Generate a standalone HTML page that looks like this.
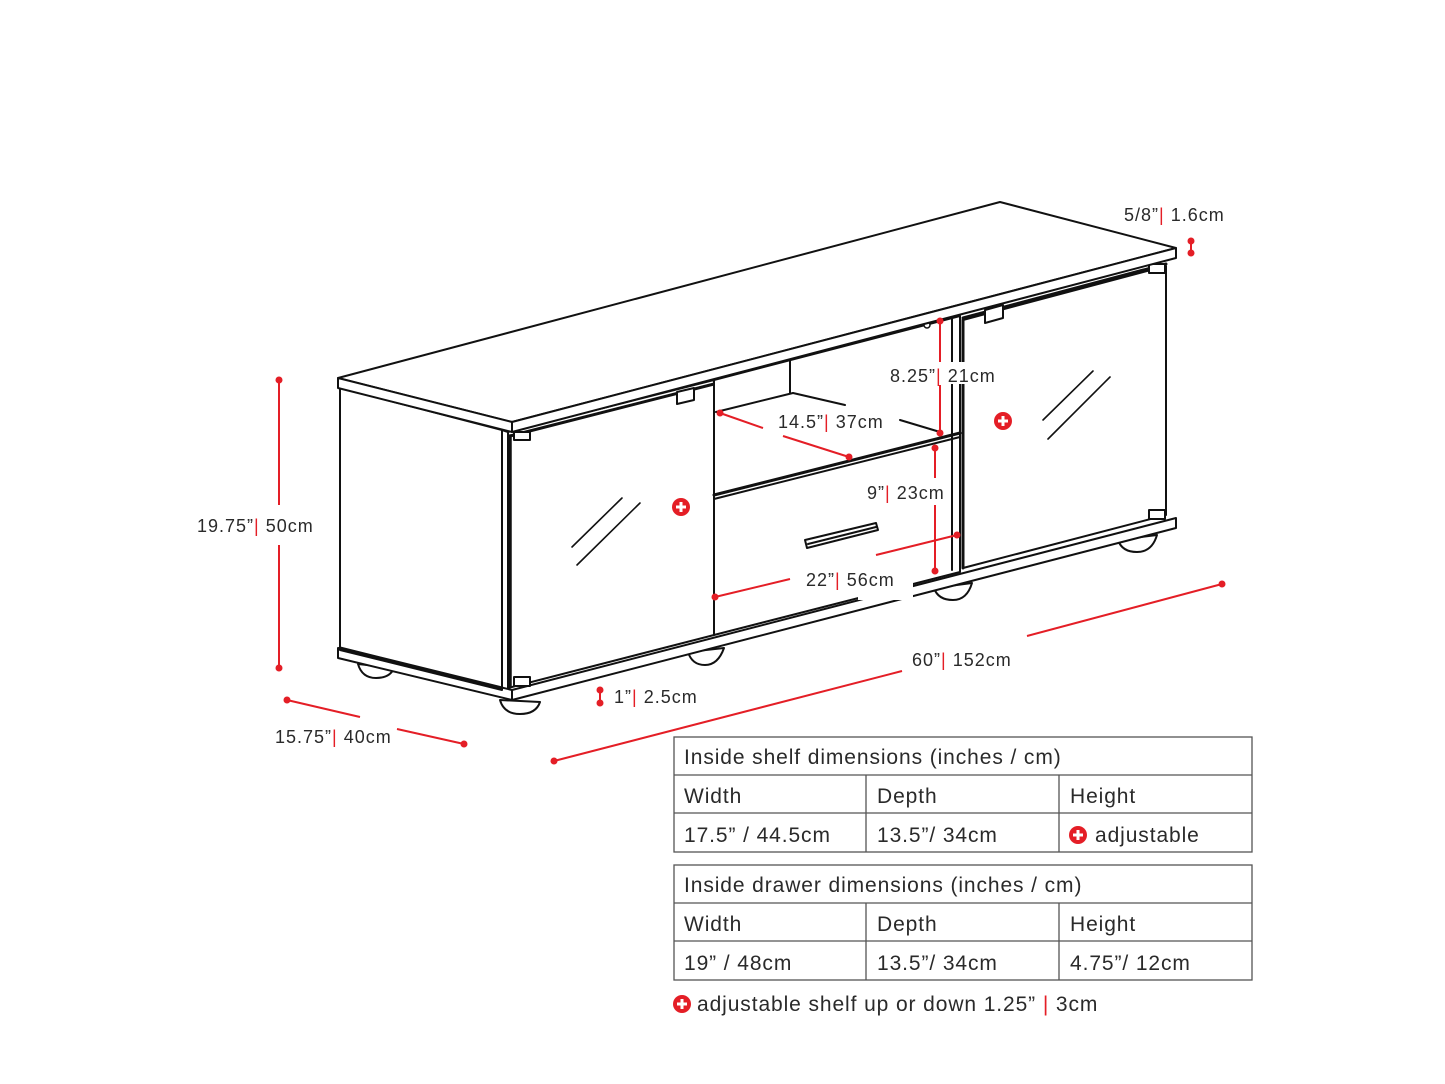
<!DOCTYPE html>
<html><head><meta charset="utf-8"><style>
html,body{margin:0;padding:0;background:#fff;}
svg{display:block;}
.k{fill:none;stroke:#111;stroke-width:2;stroke-linejoin:round;stroke-linecap:round;}
.kw{fill:#fff;stroke:#111;stroke-width:2;stroke-linejoin:round;}
.r{stroke:#e41e26;stroke-width:2;fill:none;}
.d{fill:#e41e26;}
text{font-family:"Liberation Sans",sans-serif;fill:#2a2a2a;}
.lb{font-size:18px;letter-spacing:1px;}
.tb{font-size:21px;letter-spacing:0.9px;}
.p{fill:#e41e26;}
</style></head><body>
<svg width="1445" height="1084" viewBox="0 0 1445 1084" xmlns="http://www.w3.org/2000/svg">
<!-- feet -->
<path class="kw" d="M358,664 Q362,678 376,678 Q390,678 394,668 Z"/>
<path class="kw" d="M500,700 Q504,714 520,714 Q536,714 540,702 Z"/>
<path class="kw" d="M688,652 Q692,665 705,665 Q718,665 724,648 Z"/>
<path class="kw" d="M934,588 Q938,600 953,600 Q967,600 972,583 Z"/>
<path class="kw" d="M1118,540 Q1122,552 1137,552 Q1152,552 1157,535 Z"/>
<!-- bottom plinth -->
<polygon class="kw" points="338,648 512,690 1176,518 1176,528 512,700 338,658"/>
<line class="k" x1="512" y1="690" x2="512" y2="700"/>
<!-- left side -->
<polygon class="kw" points="340,388 502,430 502,690 340,650"/>
<line class="k" x1="340" y1="648" x2="502" y2="688" style="stroke-width:3"/>
<!-- left door -->
<polygon class="kw" points="508,432 714,380 714,635 508,688"/>
<line class="k" x1="502" y1="430" x2="508" y2="432"/>
<line class="k" x1="510" y1="436" x2="510" y2="686" style="stroke-width:3.5"/>
<line class="k" x1="510" y1="436" x2="714" y2="384" style="stroke-width:3"/>
<rect class="kw" x="514" y="432" width="16" height="8"/>
<polygon class="kw" points="677,392 694,388 694,400 677,404"/>
<rect class="kw" x="514" y="677" width="16" height="9"/>
<line class="k" x1="572" y1="547" x2="622" y2="498" style="stroke-width:1.6"/>
<line class="k" x1="577" y1="565" x2="640" y2="503" style="stroke-width:1.6"/>
<!-- middle section -->
<polygon class="kw" points="714,380 960,316 960,572 714,635"/>
<line class="k" x1="790" y1="360" x2="790" y2="393"/>
<line class="k" x1="716" y1="412" x2="793" y2="393"/>
<line class="k" x1="793" y1="393" x2="845" y2="405"/>
<line class="k" x1="900" y1="420" x2="940" y2="432"/>
<circle cx="927" cy="325" r="3" class="kw" style="stroke-width:1.5"/>
<line class="k" x1="714" y1="495" x2="960" y2="433" style="stroke-width:3"/>
<line class="k" x1="714" y1="499" x2="960" y2="437"/>
<line class="k" x1="952" y1="318" x2="952" y2="570"/>
<polygon class="kw" points="805,540 876,523 878,530 807,548"/>
<line class="k" x1="808" y1="544" x2="876" y2="527"/>
<!-- right door -->
<polygon class="kw" points="963,320 1166,266 1166,515 963,568"/>
<line class="k" x1="963" y1="320" x2="963" y2="568" style="stroke-width:3"/>
<line class="k" x1="963" y1="318" x2="1166" y2="264" style="stroke-width:3"/>
<polygon class="kw" points="985,310 1003,305 1003,318 985,323"/>
<rect class="kw" x="1149" y="264" width="16" height="9"/>
<rect class="kw" x="1149" y="510" width="16" height="9"/>
<line class="k" x1="1043" y1="420" x2="1093" y2="371" style="stroke-width:1.6"/>
<line class="k" x1="1048" y1="439" x2="1110" y2="377" style="stroke-width:1.6"/>
<!-- top -->
<polygon class="kw" points="338,378 1000,202 1176,248 512,422"/>
<polygon class="kw" points="338,378 512,422 512,432 338,388"/>
<polygon class="kw" points="512,422 1176,248 1176,258 512,432"/>
<!-- white gaps behind labels -->
<rect x="858" y="555" width="55" height="45" fill="#fff"/>
<rect x="888" y="362" width="112" height="22" fill="#fff"/>
<rect x="865" y="480" width="85" height="22" fill="#fff"/>

<!-- red dimensions -->
<g class="r">
<line x1="279" y1="380" x2="279" y2="505"/><line x1="279" y1="545" x2="279" y2="668"/>
<line x1="287" y1="700" x2="360" y2="717"/><line x1="397" y1="729" x2="464" y2="744"/>
<line x1="554" y1="761" x2="902" y2="671"/><line x1="1027" y1="636" x2="1222" y2="584"/>
<line x1="720" y1="413" x2="763" y2="428"/><line x1="783" y1="436" x2="849" y2="457"/>
<line x1="940" y1="321" x2="940" y2="362"/><line x1="940" y1="385" x2="940" y2="433"/>
<line x1="935" y1="448" x2="935" y2="478"/><line x1="935" y1="505" x2="935" y2="571"/>
<line x1="715" y1="597" x2="790" y2="579"/><line x1="876" y1="555" x2="957" y2="535"/>
<line x1="600" y1="690" x2="600" y2="703"/><line x1="1191" y1="240" x2="1191" y2="253"/>
</g>
<g class="d">
<circle cx="279" cy="380" r="3.5"/><circle cx="279" cy="668" r="3.5"/>
<circle cx="287" cy="700" r="3.5"/><circle cx="464" cy="744" r="3.5"/>
<circle cx="554" cy="761" r="3.5"/><circle cx="1222" cy="584" r="3.5"/>
<circle cx="720" cy="413" r="3.5"/><circle cx="849" cy="457" r="3.5"/>
<circle cx="940" cy="321" r="3.5"/><circle cx="940" cy="433" r="3.5"/>
<circle cx="935" cy="448" r="3.5"/><circle cx="935" cy="571" r="3.5"/>
<circle cx="715" cy="597" r="3.5"/><circle cx="957" cy="535" r="3.5"/>
<circle cx="600" cy="690" r="3.5"/><circle cx="600" cy="703" r="3.5"/>
<circle cx="1191" cy="241" r="3.5"/><circle cx="1191" cy="253" r="3.5"/>
</g>
<!-- plus icons -->
<g>
<circle cx="681" cy="507" r="9" fill="#e41e26"/><path d="M676,507h10M681,502v10" stroke="#fff" stroke-width="3"/>
<circle cx="1003" cy="421" r="9" fill="#e41e26"/><path d="M998,421h10M1003,416v10" stroke="#fff" stroke-width="3"/>
<circle cx="1078" cy="835" r="9" fill="#e41e26"/><path d="M1073,835h10M1078,830v10" stroke="#fff" stroke-width="3"/>
<circle cx="682" cy="1004" r="9" fill="#e41e26"/><path d="M677,1004h10M682,999v10" stroke="#fff" stroke-width="3"/>
</g>
<!-- labels -->
<text class="lb" x="197" y="532">19.75”<tspan class="p">|</tspan> 50cm</text>
<text class="lb" x="275" y="743">15.75”<tspan class="p">|</tspan> 40cm</text>
<text class="lb" x="614" y="703">1”<tspan class="p">|</tspan> 2.5cm</text>
<text class="lb" x="912" y="666">60”<tspan class="p">|</tspan> 152cm</text>
<text class="lb" x="806" y="586">22”<tspan class="p">|</tspan> 56cm</text>
<text class="lb" x="867" y="499">9”<tspan class="p">|</tspan> 23cm</text>
<text class="lb" x="778" y="428">14.5”<tspan class="p">|</tspan> 37cm</text>
<text class="lb" x="890" y="382">8.25”<tspan class="p">|</tspan> 21cm</text>
<text class="lb" x="1124" y="221">5/8”<tspan class="p">|</tspan> 1.6cm</text>
<!-- tables -->
<g fill="none" stroke="#555" stroke-width="1.3">
<rect x="674" y="737" width="578" height="115"/>
<line x1="674" y1="775" x2="1252" y2="775"/><line x1="674" y1="813" x2="1252" y2="813"/>
<line x1="866" y1="775" x2="866" y2="852"/><line x1="1059" y1="775" x2="1059" y2="852"/>
<rect x="674" y="865" width="578" height="115"/>
<line x1="674" y1="903" x2="1252" y2="903"/><line x1="674" y1="941" x2="1252" y2="941"/>
<line x1="866" y1="903" x2="866" y2="980"/><line x1="1059" y1="903" x2="1059" y2="980"/>
</g>
<text class="tb" x="684" y="764">Inside shelf dimensions (inches / cm)</text>
<text class="tb" x="684" y="803">Width</text><text class="tb" x="877" y="803">Depth</text><text class="tb" x="1070" y="803">Height</text>
<text class="tb" x="684" y="842">17.5” / 44.5cm</text><text class="tb" x="877" y="842">13.5”/ 34cm</text><text class="tb" x="1095" y="842">adjustable</text>
<text class="tb" x="684" y="892">Inside drawer dimensions (inches / cm)</text>
<text class="tb" x="684" y="931">Width</text><text class="tb" x="877" y="931">Depth</text><text class="tb" x="1070" y="931">Height</text>
<text class="tb" x="684" y="970">19” / 48cm</text><text class="tb" x="877" y="970">13.5”/ 34cm</text><text class="tb" x="1070" y="970">4.75”/ 12cm</text>
<text class="tb" x="697" y="1011">adjustable shelf up or down 1.25” <tspan class="p">|</tspan> 3cm</text>
</svg>
</body></html>
